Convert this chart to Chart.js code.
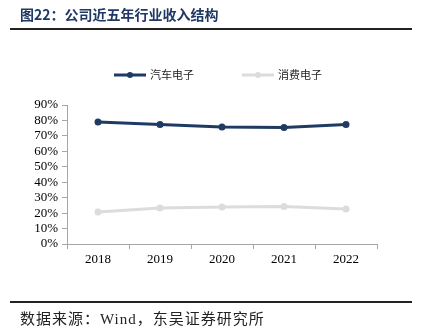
<!DOCTYPE html>
<html>
<head>
<meta charset="utf-8">
<script src="https://cdn.jsdelivr.net/npm/chart.js@4.4.0/dist/chart.umd.min.js"></script>
<style>
  html, body { margin: 0; padding: 0; background: #fff; }
  #wrap { position: relative; width: 433px; height: 336px; overflow: hidden; }
  #title { position: absolute; left: 20px; top: 4px; font-family: "Noto Sans CJK SC"; font-weight: bold; font-size: 14px; color: #1f3864; }
  .rule { position: absolute; left: 10px; width: 402px; background: #222; }
  #src { position: absolute; left: 20px; top: 307px; font-family: "Liberation Serif", "Noto Sans CJK SC"; font-size: 15px; letter-spacing: 1px; color: #222; }
  canvas { position: absolute; left: 0; top: 0; }
</style>
</head>
<body>
<div id="wrap">
  <canvas id="chart" width="433" height="336"></canvas>
  <div id="title">图22：公司近五年行业收入结构</div>
  <div class="rule" style="top:28px;height:2px"></div>
  <div class="rule" style="top:301px;height:1.5px"></div>
  <div id="src">数据来源：Wind，东吴证券研究所</div>
</div>
<script>
var years = ['2018', '2019', '2020', '2021', '2022'];
var autoShare = [79.0, 77.3, 75.8, 75.5, 77.3];
var consumerShare = [20.7, 23.3, 24.0, 24.3, 22.6];
var seriesNames = ['汽车电子', '消费电子'];
var yTicks = [0, 10, 20, 30, 40, 50, 60, 70, 80, 90];

// legend drawn as line + dot, like the original
var lineLegend = {
  id: 'lineLegend',
  afterDraw: function(chart) {
    var ctx = chart.ctx;
    var items = [[114, 0], [242, 1]];
    ctx.save();
    items.forEach(function(it) {
      var ds = chart.data.datasets[it[1]];
      var x = it[0], y = 75;
      ctx.strokeStyle = ds.borderColor;
      ctx.lineWidth = 3;
      ctx.beginPath();
      ctx.moveTo(x, y);
      ctx.lineTo(x + 32, y);
      ctx.stroke();
      ctx.fillStyle = ds.borderColor;
      ctx.beginPath();
      ctx.arc(x + 16, y, 3, 0, Math.PI * 2);
      ctx.fill();
      ctx.fillStyle = '#222';
      ctx.font = '11px "Noto Sans CJK SC"';
      ctx.textBaseline = 'middle';
      ctx.fillText(ds.label, x + 36, y);
    });
    ctx.restore();
  }
};

new Chart(document.getElementById('chart').getContext('2d'), {
  type: 'line',
  data: {
    labels: years,
    datasets: [{
      label: seriesNames[0],
      data: autoShare,
      borderColor: '#1f3b63',
      backgroundColor: '#1f3b63',
      borderWidth: 3,
      pointRadius: 3.5,
      pointBorderWidth: 0,
      tension: 0
    }, {
      label: seriesNames[1],
      data: consumerShare,
      borderColor: '#dcdcdc',
      backgroundColor: '#dcdcdc',
      borderWidth: 3,
      pointRadius: 3.5,
      pointBorderWidth: 0,
      tension: 0
    }]
  },
  options: {
    responsive: false,
    animation: false,
    layout: { padding: { left: 0, right: 56, top: 105, bottom: 0 } },
    plugins: { legend: { display: false }, tooltip: { enabled: false } },
    scales: {
      x: {
        offset: true,
        grid: { drawOnChartArea: false, drawTicks: true, tickLength: 5, color: '#a6a6a6', offset: true },
        border: { display: true, color: '#a6a6a6', width: 1 },
        ticks: { color: '#000', font: { family: 'Liberation Serif', size: 13 }, padding: 3 },
        afterFit: function(scale) { scale.height = 92; }
      },
      y: {
        min: 0,
        max: 90,
        afterBuildTicks: function(scale) {
          scale.ticks = yTicks.map(function(v) { return { value: v }; });
        },
        grid: { drawOnChartArea: false, drawTicks: true, tickLength: 5, color: '#a6a6a6' },
        border: { display: true, color: '#a6a6a6', width: 1 },
        ticks: {
          autoSkip: false,
          color: '#000',
          font: { family: 'Liberation Serif', size: 13 },
          padding: 4,
          callback: function(v) { return v + '%'; }
        },
        afterFit: function(scale) { scale.width = 67; }
      }
    }
  },
  plugins: [lineLegend]
});
</script>
</body>
</html>
